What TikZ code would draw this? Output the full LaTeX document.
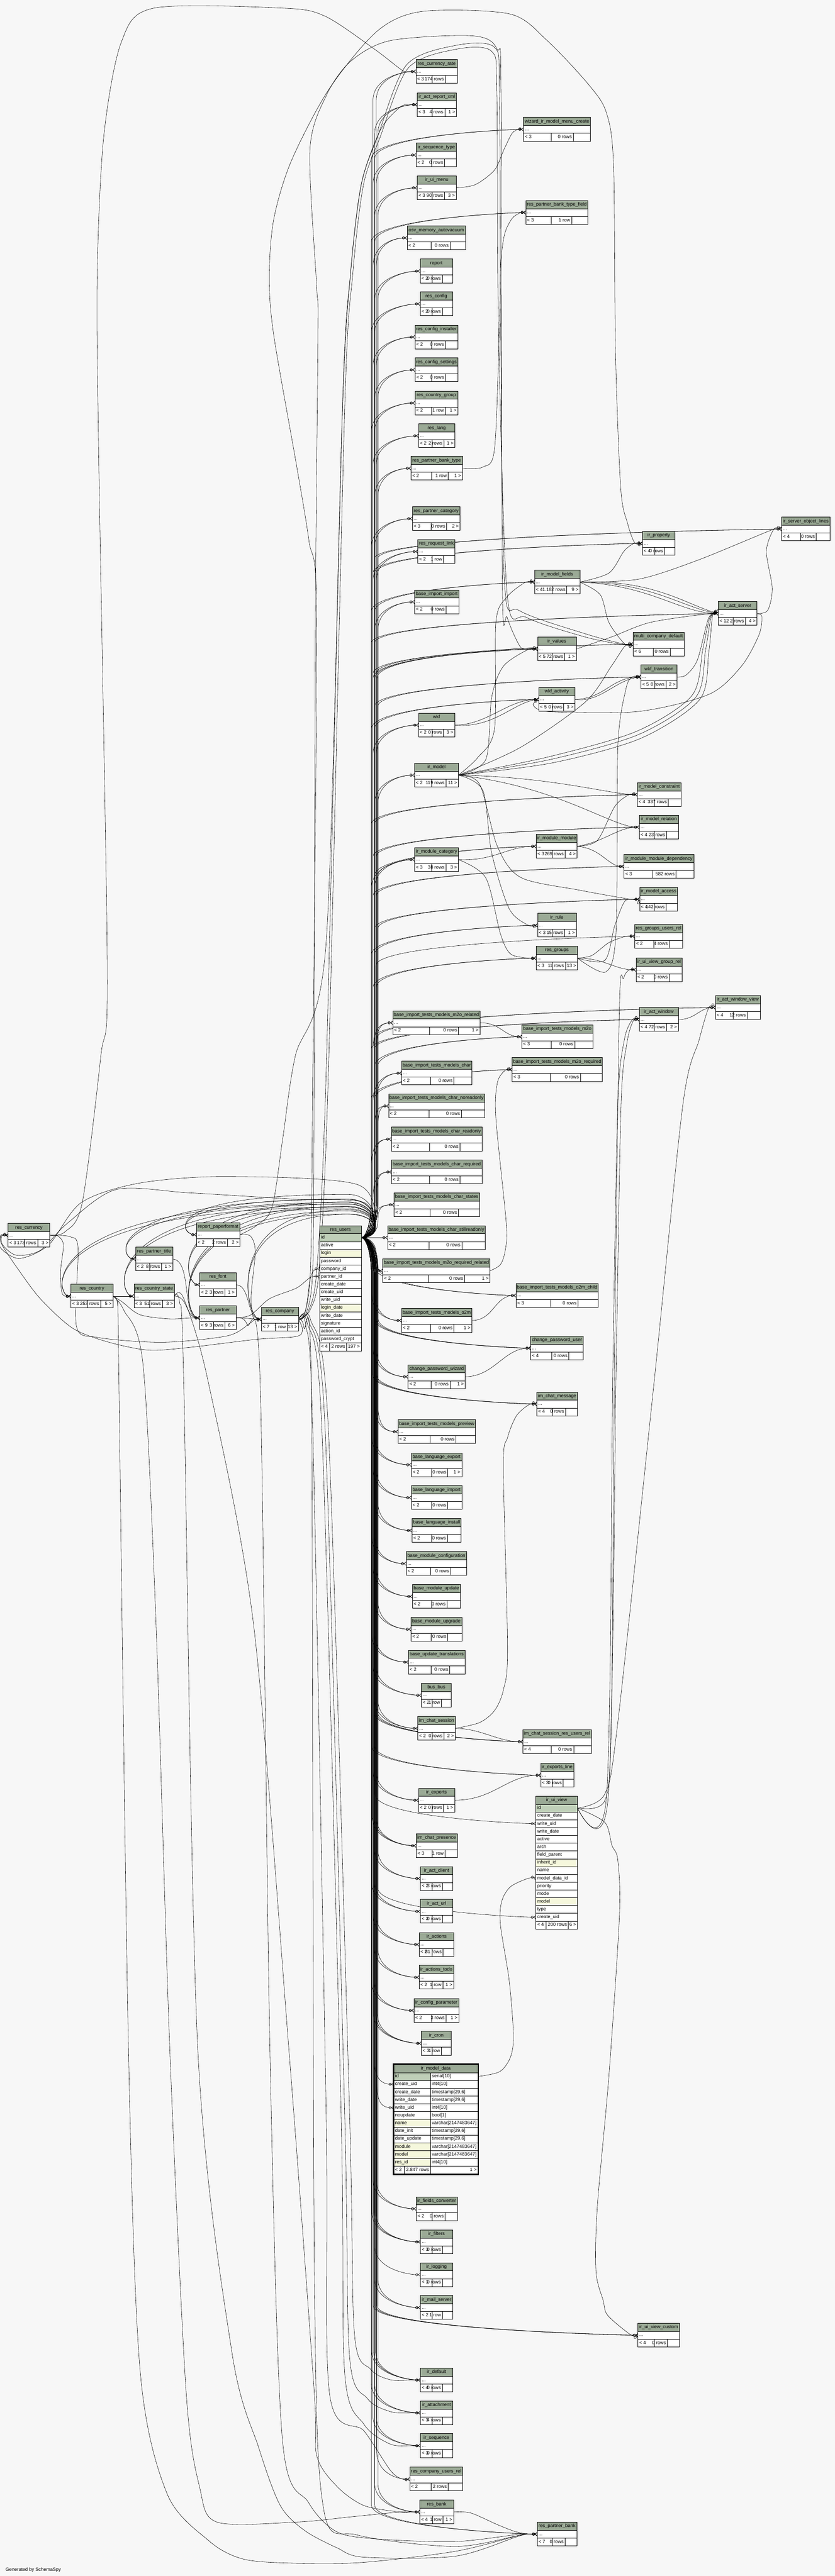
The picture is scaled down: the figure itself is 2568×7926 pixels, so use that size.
\documentclass[tikz,border=0pt]{standalone}
\usepackage{fontspec}
\usetikzlibrary{arrows.meta,calc}
\newfontfamily\tbfam{Liberation Sans}
\newcommand\tbf{\tbfam\fontsize{14.5}{17}\selectfont}
\definecolor{hdrc}{HTML}{9BAA96}
\definecolor{pkc}{HTML}{BFCFB8}
\definecolor{ixc}{HTML}{F5F7DC}
\definecolor{bgc}{HTML}{F7F7F7}
\pgfdeclarelayer{bgl}
\pgfdeclarelayer{edges}
\pgfsetlayers{bgl,edges,main}
\tikzset{
 rel/.style={line width=0.9pt,-{Circle[open,length=8pt,width=8pt,line width=0.9pt]Straight Barb[reversed,length=6pt,width=10pt,line width=0.9pt]}},
 cell/.style={draw=black,line width=0.9pt},
 txt/.style={font=\tbf,inner sep=0pt,text height=10.5pt,text depth=3pt},
}
\newlength\tbla\newlength\tblb\newlength\tblc
\newcommand\mytab[8]{%
 \settowidth\tbla{\tbf #6}\settowidth\tblb{\tbf #7}\settowidth\tblc{\tbf #8}%
 \pgfmathsetmacro\tbnl{\tbla+10}%
 \pgfmathsetmacro\tbnm{\tblb+10}%
 \pgfmathsetmacro\tbnr{\tblc>0.5 ? \tblc+10 : 20}%
 \pgfmathsetmacro\tbex{max(#5-#3-\tbnl-\tbnm-\tbnr,0)}%
 \pgfmathsetmacro\tbsa{#3+\tbnl+0.45*\tbex}%
 \pgfmathsetmacro\tbsb{#5-\tbnr-0.2*\tbex}%
 \fill[hdrc] (#3,#4) rectangle (#5,#4+25);
 \fill[white] (#3,#4+25) rectangle (#5,#4+73);
 \draw[cell] (#3,#4) rectangle (#5,#4+73);
 \draw[cell] (#3,#4+25) -- (#5,#4+25) (#3,#4+49) -- (#5,#4+49) (\tbsa,#4+49) -- (\tbsa,#4+73) (\tbsb,#4+49) -- (\tbsb,#4+73);
 \node[txt] (#1-h) at ({(#3+#5)/2},#4+13) {#2};
 \node[txt,anchor=west] (#1-d) at (#3+4,#4+37) {...};
 \node[txt,anchor=west] (#1-l) at (#3+4,#4+61) {#6};
 \node[txt,anchor=east] (#1-m) at (\tbsb-4,#4+61) {#7};
 \node[txt,anchor=east] (#1-r) at (#5-4,#4+61) {#8};
 \coordinate (#1) at (#3,#4+37);
 \coordinate (#1e) at (#5,#4+37);
}
\newcommand\hubedge[2]{%
\draw[rel] let \p1=(#1),
 \n1={ifthenelse(\y1>-3808pt,1,-1)},
 \n2={min(110,abs(\y1/1pt+3808)/2)},
 \n3={min(90,abs(\y1/1pt+3808)/2)} in
 (hub) .. controls ({#2*1pt-15pt},-3808pt) and ({#2*1pt},{-3808pt+\n1*\n2*0.45pt}) .. ({#2*1pt},{-3808pt+\n1*\n2*1pt})
 -- ({#2*1pt},{\y1-\n1*\n3*1pt})
 .. controls ({#2*1pt},{\y1-\n1*\n3*0.2pt}) and ({max(\x1-40pt,#2*1pt+5pt)},\y1) .. (#1);}
\newcommand\hubedgel[2]{%
\draw[rel] let \p1=(#1) in (hub) .. controls (1178pt,-3808pt) and (1168pt,{-#2*1pt}) .. (1070pt,{-#2*1pt}) .. controls ({\x1-130pt},{-#2*1pt}) and ({\x1-45pt},\y1) .. (#1);}
\catcode`\_=12
\begin{document}
\begin{tikzpicture}[x=1pt,y=-1pt]
\useasboundingbox (0,0) rectangle (2568,7926);
\begin{pgfonlayer}{bgl}
\fill[bgc] (0,0) rectangle (2568,7926);
\end{pgfonlayer}
% ---------------- tables ----------------
\mytab{rcr}{res_currency_rate}{1279}{183}{1407}{< 3}{174 rows}{}
\mytab{iarx}{ir_act_report_xml}{1283}{285}{1404}{< 3}{4 rows}{1 >}
\mytab{wimmc}{wizard_ir_model_menu_create}{1610}{361}{1816}{< 3}{0 rows}{}
\mytab{ist}{ir_sequence_type}{1280}{440}{1404}{< 2}{0 rows}{}
\mytab{ium}{ir_ui_menu}{1283}{541}{1403}{< 3}{90 rows}{3 >}
\mytab{rpbtf}{res_partner_bank_type_field}{1617}{617}{1808}{< 3}{1 row}{}
\mytab{oma}{osv_memory_autovacuum}{1252}{695}{1432}{< 2}{0 rows}{}
\mytab{rep}{report}{1292}{797}{1392}{< 2}{0 rows}{}
\mytab{rcfg}{res_config}{1292}{898}{1392}{< 2}{0 rows}{}
\mytab{rci}{res_config_installer}{1276}{1000}{1408}{< 2}{0 rows}{}
\mytab{rcs}{res_config_settings}{1276}{1101}{1408}{< 2}{0 rows}{}
\mytab{rcg}{res_country_group}{1276}{1203}{1408}{< 2}{1 row}{1 >}
\mytab{rl}{res_lang}{1287}{1304}{1399}{< 2}{2 rows}{1 >}
\mytab{rpbt}{res_partner_bank_type}{1264}{1404}{1422}{< 2}{1 row}{1 >}
\mytab{rpc}{res_partner_category}{1268}{1559}{1415}{< 3}{0 rows}{2 >}
\mytab{rrl}{res_request_link}{1285}{1660}{1399}{< 2}{1 row}{}
\mytab{bii}{base_import_import}{1275}{1815}{1411}{< 2}{0 rows}{}
\mytab{imf}{ir_model_fields}{1644}{1754}{1783}{< 4}{1.182 rows}{9 >}
\mytab{ip}{ir_property}{1976}{1635}{2076}{< 4}{0 rows}{}
\mytab{isol}{ir_server_object_lines}{2404}{1591}{2552}{< 4}{0 rows}{}
\mytab{ias}{ir_act_server}{2209}{1851}{2328}{< 12}{2 rows}{4 >}
\mytab{iv}{ir_values}{1653}{1960}{1772}{< 5}{72 rows}{1 >}
\mytab{mcd}{multi_company_default}{1947}{1945}{2104}{< 6}{0 rows}{}
\mytab{wt}{wkf_transition}{1971}{2046}{2082}{< 5}{0 rows}{2 >}
\mytab{wa}{wkf_activity}{1657}{2115}{1768}{< 5}{0 rows}{3 >}
\mytab{wkf}{wkf}{1287}{2194}{1398}{< 2}{0 rows}{3 >}
\mytab{im}{ir_model}{1275}{2348}{1410}{< 2}{119 rows}{11 >}
\mytab{imc}{ir_model_constraint}{1960}{2408}{2094}{< 4}{337 rows}{}
\mytab{imr}{ir_model_relation}{1966}{2508}{2086}{< 4}{23 rows}{}
\mytab{imm}{ir_module_module}{1649}{2567}{1775}{< 3}{269 rows}{4 >}
\mytab{imcat}{ir_module_category}{1275}{2608}{1410}{< 3}{38 rows}{3 >}
\mytab{immd}{ir_module_module_dependency}{1919}{2629}{2134}{< 3}{582 rows}{}
\mytab{ima}{ir_model_access}{1967}{2730}{2084}{< 4}{142 rows}{}
\mytab{irr}{ir_rule}{1653}{2810}{1772}{< 3}{15 rows}{1 >}
\mytab{rgur}{res_groups_users_rel}{1952}{2844}{2099}{< 2}{4 rows}{}
\mytab{rg}{res_groups}{1649}{2911}{1776}{< 3}{11 rows}{13 >}
\mytab{iuvgr}{ir_ui_view_group_rel}{1956}{2947}{2098}{< 2}{0 rows}{}
\mytab{iawv}{ir_act_window_view}{2200}{3063}{2338}{< 4}{12 rows}{}
\mytab{iaw}{ir_act_window}{1966}{3100}{2086}{< 4}{72 rows}{2 >}
\mytab{m2orel}{base_import_tests_models_m2o_related}{1208}{3110}{1476}{< 2}{0 rows}{1 >}
\mytab{m2o}{base_import_tests_models_m2o}{1605}{3153}{1823}{< 3}{0 rows}{}
\mytab{m2oreq}{base_import_tests_models_m2o_required}{1575}{3254}{1852}{< 3}{0 rows}{}
\mytab{chr}{base_import_tests_models_char}{1235}{3265}{1451}{< 2}{0 rows}{}
\mytab{chrnr}{base_import_tests_models_char_noreadonly}{1195}{3366}{1490}{< 2}{0 rows}{}
\mytab{chrro}{base_import_tests_models_char_readonly}{1203}{3468}{1482}{< 2}{0 rows}{}
\mytab{chrrq}{base_import_tests_models_char_required}{1204}{3569}{1482}{< 2}{0 rows}{}
\mytab{chrst}{base_import_tests_models_char_states}{1212}{3670}{1474}{< 2}{0 rows}{}
\mytab{chrsr}{base_import_tests_models_char_stillreadonly}{1192}{3771}{1492}{< 2}{0 rows}{}
\mytab{m2orr}{base_import_tests_models_m2o_required_related}{1177}{3873}{1507}{< 2}{0 rows}{1 >}
\mytab{o2mc}{base_import_tests_models_o2m_child}{1587}{3949}{1840}{< 3}{0 rows}{}
\mytab{o2m}{base_import_tests_models_o2m}{1235}{4026}{1451}{< 2}{0 rows}{1 >}
\mytab{cpu}{change_password_user}{1632}{4111}{1794}{< 4}{0 rows}{}
\mytab{cpw}{change_password_wizard}{1255}{4199}{1431}{< 2}{0 rows}{1 >}
\mytab{icm}{im_chat_message}{1651}{4283}{1776}{< 4}{0 rows}{}
\mytab{prev}{base_import_tests_models_preview}{1224}{4368}{1462}{< 2}{0 rows}{}
\mytab{ble}{base_language_export}{1265}{4470}{1420}{< 2}{0 rows}{1 >}
\mytab{bli}{base_language_import}{1265}{4571}{1420}{< 2}{0 rows}{}
\mytab{blin}{base_language_install}{1267}{4672}{1418}{< 2}{0 rows}{}
\mytab{bmc}{base_module_configuration}{1249}{4774}{1435}{< 2}{0 rows}{}
\mytab{bmu}{base_module_update}{1268}{4875}{1416}{< 2}{0 rows}{}
\mytab{bmug}{base_module_upgrade}{1264}{4976}{1420}{< 2}{0 rows}{}
\mytab{but}{base_update_translations}{1256}{5077}{1430}{< 2}{0 rows}{}
\mytab{bus}{bus_bus}{1296}{5179}{1388}{< 2}{1 row}{}
\mytab{ics}{im_chat_session}{1285}{5281}{1400}{< 2}{0 rows}{2 >}
\mytab{icsr}{im_chat_session_res_users_rel}{1608}{5322}{1818}{< 4}{0 rows}{}
\mytab{iel}{ir_exports_line}{1663}{5425}{1764}{< 3}{0 rows}{}
\mytab{ie}{ir_exports}{1287}{5502}{1398}{< 2}{0 rows}{1 >}
\mytab{icp}{im_chat_presence}{1280}{5642}{1406}{< 3}{1 row}{}
\mytab{iac}{ir_act_client}{1293}{5743}{1392}{< 2}{3 rows}{}
\mytab{iau}{ir_act_url}{1293}{5844}{1392}{< 2}{0 rows}{}
\mytab{ia}{ir_actions}{1289}{5946}{1396}{< 2}{81 rows}{}
\mytab{iat}{ir_actions_todo}{1289}{6047}{1395}{< 2}{1 row}{1 >}
\mytab{icfg}{ir_config_parameter}{1273}{6149}{1411}{< 2}{3 rows}{1 >}
\mytab{icr}{ir_cron}{1296}{6250}{1388}{< 3}{1 row}{}
\mytab{ifc}{ir_fields_converter}{1280}{6759}{1406}{< 2}{0 rows}{}
\mytab{ifl}{ir_filters}{1293}{6861}{1392}{< 3}{0 rows}{}
\mytab{ilog}{ir_logging}{1293}{6962}{1392}{< 1}{0 rows}{}
\mytab{ims}{ir_mail_server}{1293}{7063}{1392}{< 2}{1 row}{}
\mytab{iuvc}{ir_ui_view_custom}{1962}{7148}{2090}{< 4}{0 rows}{}
\mytab{idf}{ir_default}{1293}{7286}{1392}{< 4}{0 rows}{}
\mytab{iatt}{ir_attachment}{1293}{7387}{1392}{< 3}{4 rows}{}
\mytab{iseq}{ir_sequence}{1293}{7488}{1392}{< 3}{0 rows}{}
\mytab{rcur}{res_company_users_rel}{1260}{7591}{1423}{< 2}{2 rows}{}
\mytab{rb}{res_bank}{1291}{7692}{1395}{< 4}{1 row}{1 >}
\mytab{rpb}{res_partner_bank}{1652}{7760}{1774}{< 7}{0 rows}{}
\mytab{rcy}{res_currency}{25}{3764}{153}{< 3}{173 rows}{3 >}
\mytab{rctry}{res_country}{218}{3951}{347}{< 3}{253 rows}{5 >}
\mytab{rpt}{res_partner_title}{417}{3837}{531}{< 2}{8 rows}{1 >}
\mytab{rcs2}{res_country_state}{412}{3951}{536}{< 3}{51 rows}{3 >}
\mytab{rpf}{report_paperformat}{604}{3762}{738}{< 2}{2 rows}{2 >}
\mytab{rf}{res_font}{614}{3916}{726}{< 2}{3 rows}{1 >}
\mytab{rp}{res_partner}{614}{4018}{726}{< 9}{3 rows}{6 >}
\mytab{rco}{res_company}{804}{4022}{918}{< 7}{1 row}{13 >}
% res_users
\fill[hdrc] (983,3771) rectangle (1111,3796);
\draw[cell] (983,3771) rectangle (1111,3796);
\node[txt] (ru-h) at (1047,3784) {res_users};
\foreach \nm/\fc [count=\i from 0] in {id/pkc,active/white,login/ixc,password/white,company_id/white,partner_id/white,create_date/white,create_uid/white,write_uid/white,login_date/ixc,write_date/white,signature/white,action_id/white,password_crypt/white}
 {\filldraw[fill=\fc,cell] (983,3796+24*\i) rectangle (1111,3820+24*\i);
  \node[txt,anchor=west] (ru-r\i) at (987,3808+24*\i) {\nm};}
\filldraw[fill=white,cell] (983,4132) rectangle (1111,4156);
\draw[cell] (1013,4132) -- (1013,4156) (1066,4132) -- (1066,4156);
\node[txt,anchor=west] (ru-l) at (987,4144) {< 4};
\node[txt,anchor=east] (ru-m) at (1062,4144) {2 rows};
\node[txt,anchor=east] (ru-x) at (1107,4144) {197 >};
\coordinate (hub) at (1111,3808);
\coordinate (ru-company) at (983,3904);
\coordinate (ru-partner) at (983,3928);
% ir_ui_view
\fill[hdrc] (1648,5526) rectangle (1776,5551);
\draw[cell] (1648,5526) rectangle (1776,5551);
\node[txt] (iuv-h) at (1712,5539) {ir_ui_view};
\foreach \nm/\fc [count=\i from 0] in {id/pkc,create_date/white,write_uid/white,write_date/white,active/white,arch/white,field_parent/white,inherit_id/ixc,name/white,model_data_id/white,priority/white,mode/white,model/ixc,type/white,create_uid/white}
 {\filldraw[fill=\fc,cell] (1648,5551+24*\i) rectangle (1776,5575+24*\i);
  \node[txt,anchor=west] (iuv-r\i) at (1652,5563+24*\i) {\nm};}
\filldraw[fill=white,cell] (1648,5911) rectangle (1776,5935);
\draw[cell] (1679,5911) -- (1679,5935) (1748,5911) -- (1748,5935);
\node[txt,anchor=west] (iuv-l) at (1652,5923) {< 4};
\node[txt,anchor=east] (iuv-m) at (1744,5923) {200 rows};
\node[txt,anchor=east] (iuv-x) at (1772,5923) {6 >};
\coordinate (iuv-id) at (1776,5563);
\coordinate (iuv-wu) at (1648,5611);
\coordinate (iuv-md) at (1648,5779);
\coordinate (iuv-cu) at (1648,5899);
% ir_model_data
\fill[hdrc] (1211,6352) rectangle (1470,6377);
\draw[cell] (1211,6352) rectangle (1470,6377);
\node[txt] (imd-h) at (1340,6365) {ir_model_data};
\foreach \nm/\fc/\ty [count=\i from 0] in {id/pkc/serial[10],create_uid/white/int4[10],create_date/white/{timestamp[29,6]},write_date/white/{timestamp[29,6]},write_uid/white/int4[10],noupdate/white/bool[1],name/ixc/varchar[2147483647],date_init/white/{timestamp[29,6]},date_update/white/{timestamp[29,6]},module/ixc/varchar[2147483647],model/ixc/varchar[2147483647],res_id/ixc/int4[10]}
 {\filldraw[fill=\fc,cell] (1211,6377+24*\i) rectangle (1324,6401+24*\i);
  \filldraw[fill=white,cell] (1324,6377+24*\i) rectangle (1470,6401+24*\i);
  \node[txt,anchor=west] (imd-n\i) at (1215,6389+24*\i) {\nm};
  \node[txt,anchor=west] (imd-t\i) at (1328,6389+24*\i) {\ty};}
\filldraw[fill=white,cell] (1211,6665) rectangle (1470,6689);
\draw[cell] (1244,6665) -- (1244,6689) (1324,6665) -- (1324,6689);
\node[txt,anchor=west] (imd-l) at (1215,6677) {< 2};
\node[txt,anchor=east] (imd-m) at (1320,6677) {2.847 rows};
\node[txt,anchor=east] (imd-x) at (1466,6677) {1 >};
\draw[line width=2.6pt] (1209,6350) rectangle (1472,6691);
\coordinate (imd-id) at (1470,6389);
\coordinate (imd-cu) at (1211,6413);
\coordinate (imd-wu) at (1211,6485);
\node[font=\tbf,anchor=west,inner sep=0pt] (gen) at (17,7907) {Generated by SchemaSpy};
% ---------------- connectors ----------------
\begin{pgfonlayer}{edges}
\foreach \tn [count=\i] in {rcr,iarx,wimmc,ist,ium,rpbtf,oma,rep,rcfg,rci,rcs,rcg,rl,rpbt,rpc,rrl,bii,imf,ip,isol,ias,mcd,wt,wa,wkf,im,imc,imr,imm,imcat,immd,ima,irr,rg,iawv,iaw,m2orel,m2o,m2oreq,chr,chrnr,chrro,chrrq,chrst,chrsr,m2orr,o2mc,o2m,cpw,prev,ble,bli,blin,bmc,bmu,bmug,but,bus,ics,iel,ie,iac,iau,ia,iat,icfg,ifc,ims,iatt,iseq,rb,rpb}
 {\pgfmathsetmacro\ba{1142+mod(\i*5,15)}\pgfmathsetmacro\bb{\ba+10}\hubedge{\tn}{\ba}\hubedge{\tn}{\bb}}
\foreach \tn [count=\i] in {iv,cpu,icm,icsr,icp,icr,ifl,iuvc,idf}
 {\pgfmathsetmacro\ba{1143+mod(\i*4,9)}\pgfmathsetmacro\bb{\ba+6}\pgfmathsetmacro\bc{\ba+12}\hubedge{\tn}{\ba}\hubedge{\tn}{\bb}\hubedge{\tn}{\bc}}
\hubedge{rgur}{1156}\hubedge{ilog}{1152}\hubedge{rcur}{1158}
\hubedge{imd-cu}{1150}\hubedge{imd-wu}{1158}\hubedge{iuv-wu}{1154}\hubedge{iuv-cu}{1162}
\foreach \tn/\ay in {rctry/3700,rpt/3690,rcs2/3705,rpf/3675,rf/3698,rp/3712,rco/3722}
 {\hubedgel{\tn}{\ay}\pgfmathsetmacro\ayb{\ay+14}\hubedgel{\tn}{\ayb}}
\hubedgel{rp}{3735}
\draw[rel] plot[smooth,tension=0.5] coordinates {(hub) (1150,3790) (1120,3700) (912,3690) (580,3670) (357,3660) (207,3764) (124,3847) (50,3862) (8,3830) (5,3803) (rcy)};
\draw[rel] plot[smooth,tension=0.5] coordinates {(hub) (1155,3780) (1100,3645) (700,3620) (430,3640) (250,3700) (150,3830) (60,3872) (2,3840) (3,3800) (rcy)};
% left cluster
\draw[rel] plot[smooth,tension=0.5] coordinates {(rcye) (178,3803) (195,3830) (186,3913) (190,3975) (200,3988) (rctry)};
\draw[rel] (rctrye) -- (rcs2);
\draw[rel] plot[smooth,tension=0.5] coordinates {(rctrye) (375,4005) (430,4045) (520,4058) (585,4055) (rp)};
\draw[rel] (rcs2e) .. controls (580,3988) and (570,4055) .. (rp);
\draw[rel] (rpte) .. controls (590,3876) and (560,4055) .. (rp);
\draw[rel] (rpe) .. controls (760,4054) and (770,4059) .. (rco);
\draw[rel] plot[smooth,tension=0.5] coordinates {(rpfe) (770,3803) (785,3850) (772,3990) (780,4056) (rco)};
\draw[rel] (rfe) .. controls (770,3953) and (760,4059) .. (rco);
\draw[rel] (rcoe) .. controls (960,4058) and (935,3904) .. (ru-company);
\draw[rel] plot[smooth,tension=0.5] coordinates {(rpe) (771,4046) (829,3996) (912,3963) (955,3930) (ru-partner)};
\draw[rel] plot[smooth,tension=0.5] coordinates {(rcoe) (930,4090) (912,4112) (788,4121) (580,4146) (456,4154) (332,4129) (224,4087) (124,3996) (50,3897) (6,3830) (2,3803) (rcy)};
\draw[rel] plot[smooth,tension=0.5] coordinates {(rcye) (215,3805) (240,3840) (235,4080) (300,4115) (500,4130) (700,4110) (770,4070) (785,4059) (rco)};
% long connectors down to the bottom
\draw[rel] plot[smooth,tension=0.5] coordinates {(rctrye) (380,4030) (440,4200) (480,5000) (522,6300) (572,7354) (614,7653) (667,7760) (912,7760) (1078,7744) (1230,7729) (1265,7729) (rb)};
\draw[rel] plot[smooth,tension=0.5] coordinates {(rctrye) (362,4015) (365,4200) (395,6300) (431,7295) (514,7673) (643,7818) (738,7871) (858,7885) (1103,7885) (1400,7850) (1600,7800) (1625,7797) (rpb)};
\draw[rel] plot[smooth,tension=0.5] coordinates {(rcs2e) (552,4005) (565,4250) (608,6300) (713,7236) (796,7532) (862,7709) (937,7786) (1036,7839) (1119,7868) (1400,7865) (1590,7805) (1625,7797) (rpb)};
\draw[rel] plot[smooth,tension=0.5] coordinates {(rcs2e) (565,3995) (640,4250) (780,5000) (888,6300) (966,7354) (974,7555) (1036,7650) (1119,7709) (1230,7729) (1265,7729) (rb)};
\draw[rel] plot[smooth,tension=0.5] coordinates {(rpe) (760,4075) (800,4250) (830,6300) (868,7500) (949,7700) (1036,7790) (1161,7812) (1400,7820) (1600,7797) (1625,7797) (rpb)};
\draw[rel] plot[smooth,tension=0.5] coordinates {(rcoe) (935,4085) (958,4300) (967,7000) (995,7718) (1100,7800) (1400,7835) (1600,7800) (1625,7797) (rpb)};
\draw[rel] plot[smooth,tension=0.5] coordinates {(rcoe) (940,4075) (962,4400) (1003,6500) (1013,7361) (1120,7480) (1200,7600) (1235,7627) (rcur)};
\draw[rel] plot[smooth,tension=0.5] coordinates {(rcoe) (945,4070) (990,4400) (1049,6500) (1060,7300) (1120,7460) (1200,7520) (1265,7525) (iseq)};
\draw[rel] plot[smooth,tension=0.5] coordinates {(rcoe) (950,4065) (1000,4400) (1060,6500) (1075,7250) (1130,7380) (1200,7420) (1265,7424) (iatt)};
\draw[rel] plot[smooth,tension=0.5] coordinates {(rcoe) (955,4060) (1010,4400) (1075,6500) (1090,7180) (1140,7290) (1200,7322) (1265,7323) (idf)};
% long connectors up to the top
\draw[rel] plot[smooth,tension=0.5] coordinates {(rcye) (200,3790) (253,3700) (310,3250) (330,2989) (303,1368) (299,842) (319,421) (373,130) (473,25) (871,25) (1000,50) (1150,150) (1235,215) (1255,220) (rcr)};
\draw[rel] plot[smooth,tension=0.5] coordinates {(rpfe) (790,3770) (837,3714) (870,3500) (908,3250) (1003,2900) (1053,1263) (1078,842) (1111,568) (1170,400) (1230,330) (1258,322) (iarx)};
\draw[rel] plot[smooth,tension=0.5] coordinates {(rcoe) (936,4045) (955,3900) (962,3300) (974,1895) (950,1663) (912,1432) (842,1032) (828,853) (842,674) (896,495) (1012,274) (1161,95) (1300,35) (1568,43) (1683,125) (1810,260) (1865,347) (1887,510) (1893,1085) (1909,1502) (1930,1610) (1952,1670) (ip)};
\draw[rel] plot[smooth,tension=0.5] coordinates {(rcoe) (942,4040) (962,3900) (966,3300) (970,1895) (978,1011) (974,884) (953,463) (1003,295) (1078,189) (1200,125) (1450,110) (1528,150) (1541,300) (1545,1800) (1560,1900) (1600,1990) (1628,1997) (iv)};
\draw[rel] plot[smooth,tension=0.5] coordinates {(rcoe) (948,4035) (975,3900) (1003,3300) (1053,1263) (1078,842) (1111,568) (1161,421) (1250,200) (1400,140) (1520,145) (1536,280) (1540,1000) (1552,1800) (1600,1880) (1800,1950) (1920,1982) (mcd)};
\draw[rel] plot[smooth,tension=0.5] coordinates {(rcoe) (954,4030) (982,3900) (1010,3300) (1060,1263) (1085,842) (1118,568) (1168,425) (1255,210) (1400,152) (1512,158) (1528,290) (1533,1000) (1560,1830) (1620,1900) (1800,1960) (1920,1984) (mcd)};
% right side connectors
\draw[rel] plot[smooth,tension=0.5] coordinates {(iume) (1462,568) (1521,523) (1550,460) (1575,410) (1595,398) (wimmc)};
\draw[rel] plot[smooth,tension=0.5] coordinates {(rpbte) (1485,1437) (1521,1380) (1536,1000) (1540,813) (1552,720) (1575,672) (1600,655) (rpbtf)};
\draw[rel] plot[smooth,tension=0.5] coordinates {(ime) (1470,2330) (1521,2241) (1525,1916) (1557,1839) (1615,1792) (imf)};
\draw[rel] plot[smooth,tension=0.5] coordinates {(ime) (1692,2337) (1964,2260) (2140,2145) (2170,2000) (2188,1895) (ias)};
\draw[rel] plot[smooth,tension=0.5] coordinates {(ime) (1700,2347) (1970,2272) (2152,2152) (2180,2005) (2192,1892) (ias)};
\draw[rel] plot[smooth,tension=0.5] coordinates {(ime) (1690,2328) (1958,2250) (2128,2140) (2162,1995) (2184,1898) (ias)};
\draw[rel] plot[smooth,tension=0.5] coordinates {(ime) (1494,2337) (1512,2146) (1548,2050) (1625,1998) (iv)};
\draw[rel] plot[smooth,tension=0.5] coordinates {(ime) (1600,2300) (1800,2160) (1880,2050) (1922,1988) (mcd)};
\draw[rel] (ime) .. controls (1700,2390) and (1880,2445) .. (imc);
\draw[rel] (ime) .. controls (1720,2420) and (1880,2545) .. (imr);
\draw[rel] plot[smooth,tension=0.5] coordinates {(ime) (1475,2413) (1530,2605) (1602,2700) (1783,2739) (1940,2767) (ima)};
\draw[rel] plot[smooth,tension=0.5] coordinates {(ime) (1485,2432) (1512,2624) (1566,2796) (1625,2847) (irr)};
\draw[rel] plot[smooth,tension=0.5] coordinates {(imfe) (1873,1763) (1919,1696) (1950,1672) (ip)};
\draw[rel] plot[smooth,tension=0.5] coordinates {(imfe) (1964,1782) (2145,1724) (2380,1628) (isol)};
\draw[rel] (imfe) .. controls (2000,1790) and (2100,1870) .. (ias);
\draw[rel] (imfe) .. controls (2000,1800) and (2090,1885) .. (ias);
\draw[rel] (imfe) .. controls (2010,1782) and (2110,1860) .. (ias);
\draw[rel] plot[smooth,tension=0.5] coordinates {(imfe) (1846,1830) (1873,1916) (1922,1982) (mcd)};
\draw[rel] plot[smooth,tension=0.5] coordinates {(iase) (2361,1878) (2375,1810) (2357,1696) (2380,1628) (isol)};
\draw[rel] plot[smooth,tension=0.5] coordinates {(iase) (2343,1897) (2334,1954) (2280,2050) (2181,2136) (1964,2189) (1693,2190) (1640,2170) (wa)};
\draw[rel] plot[smooth,tension=0.5] coordinates {(ive) (1880,1960) (2000,1915) (2180,1888) (ias)};
\draw[rel] (wae) .. controls (1860,2150) and (1880,2083) .. (wt);
\draw[rel] (wae) .. controls (1850,2162) and (1890,2092) .. (wt);
\draw[rel] plot[smooth,tension=0.5] coordinates {(wte) (2110,2077) (2145,2030) (2180,1900) (ias)};
\draw[rel] (wkfe) .. controls (1500,2231) and (1560,2152) .. (wa);
\draw[rel] (wkfe) .. controls (1520,2242) and (1580,2160) .. (wa);
\draw[rel] plot[smooth,tension=0.5] coordinates {(rge) (1864,2990) (1895,2860) (1900,2300) (1925,2120) (1945,2083) (wt)};
\draw[rel] plot[smooth,tension=0.5] coordinates {(rge) (1820,2940) (1873,2900) (1925,2881) (rgur)};
\draw[rel] (rge) .. controls (1860,2948) and (1890,2984) .. (iuvgr);
\draw[rel] plot[smooth,tension=0.5] coordinates {(rge) (1860,2955) (1890,2850) (1920,2775) (1945,2767) (ima)};
\draw[rel] (imcate) .. controls (1520,2650) and (1560,2604) .. (imm);
\draw[rel] plot[smooth,tension=0.5] coordinates {(imcate) (1494,2701) (1539,2873) (1570,2935) (1625,2948) (rg)};
\draw[rel] plot[smooth,tension=0.5] coordinates {(imme) (1837,2586) (1891,2481) (1935,2445) (imc)};
\draw[rel] (imme) .. controls (1860,2590) and (1900,2545) .. (imr);
\draw[rel] (imme) .. controls (1850,2610) and (1870,2666) .. (immd);
\draw[rel] (iawe) .. controls (2140,3137) and (2150,3100) .. (iawv);
\draw[rel] plot[smooth,tension=0.5] coordinates {(iuv-id) (1860,5540) (1880,5300) (1890,4200) (1905,3100) (1918,3010) (1935,2984) (iuvgr)};
\draw[rel] plot[smooth,tension=0.5] coordinates {(iuv-id) (1865,5530) (1885,4200) (1900,3400) (1920,3200) (1945,3137) (iaw)};
\draw[rel] plot[smooth,tension=0.5] coordinates {(iuv-id) (1870,5535) (1895,4200) (1910,3400) (1928,3210) (1948,3140) (iaw)};
\draw[rel] plot[smooth,tension=0.5] coordinates {(iuv-id) (1860,5520) (1900,5300) (2009,4278) (2100,3400) (2150,3200) (2180,3100) (iawv)};
\draw[rel] plot[smooth,tension=0.5] coordinates {(iuv-id) (1860,5607) (1882,5678) (1900,5723) (1905,5895) (1873,6383) (1837,6790) (1833,6989) (1855,7078) (1869,7124) (1940,7184) (iuvc)};
\draw[rel] (m2orele) .. controls (1540,3146) and (1550,3190) .. (m2o);
\draw[rel] plot[smooth,tension=0.5] coordinates {(m2orre) (1539,3891) (1554,3846) (1557,3764) (1525,3439) (1530,3330) (1555,3292) (m2oreq)};
\draw[rel] (o2me) .. controls (1520,4062) and (1520,3986) .. (o2mc);
\draw[rel] (cpwe) .. controls (1520,4235) and (1550,4148) .. (cpu);
\draw[rel] plot[smooth,tension=0.5] coordinates {(icse) (1475,5300) (1521,5263) (1548,5200) (1561,5074) (1548,4513) (1561,4423) (1589,4355) (1630,4320) (icm)};
\draw[rel] (icse) .. controls (1480,5318) and (1530,5359) .. (icsr);
\draw[rel] (iee) .. controls (1520,5539) and (1560,5461) .. (iel);
\draw[rel] plot[smooth,tension=0.5] coordinates {(imd-id) (1537,6374) (1570,6329) (1579,6261) (1566,6094) (1539,5922) (1543,5850) (1570,5805) (1625,5779) (iuv-md)};
\draw[rel] plot[smooth,tension=0.5] coordinates {(rbe) (1448,7732) (1530,7768) (1584,7789) (1625,7797) (rpb)};
\end{pgfonlayer}
\end{tikzpicture}
\end{document}
